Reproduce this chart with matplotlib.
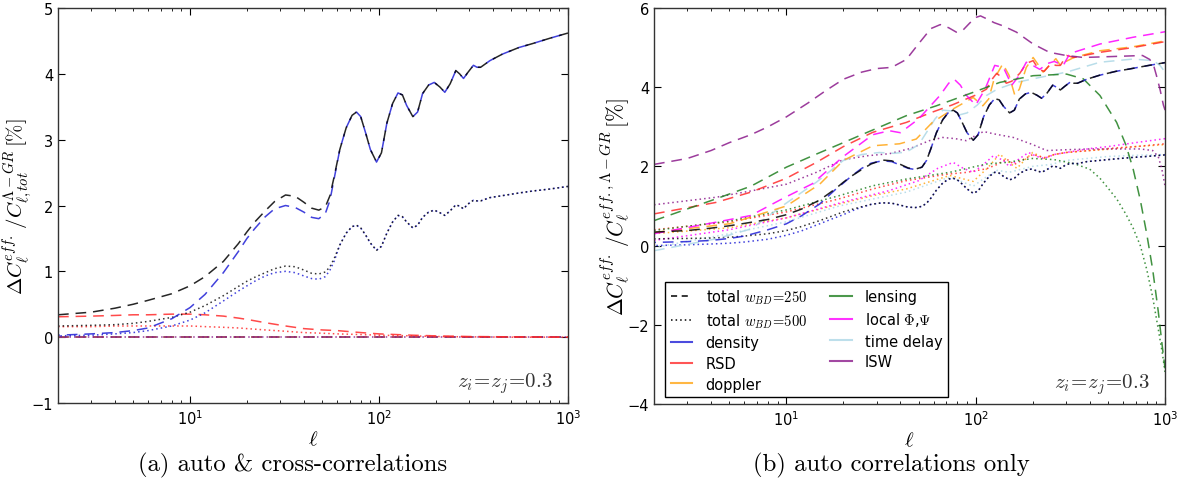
"""Brans-Dicke vs LCDM: relative change of the effective angular power spectrum."""

import matplotlib

matplotlib.use("Agg")
import matplotlib.pyplot as plt
from matplotlib.font_manager import FontProperties
from matplotlib.lines import Line2D

# ---------------------------------------------------------------- data
# (a) auto & cross-correlations
ell_a = [2, 3, 4, 5, 6, 8, 10, 12, 15, 18, 20, 22, 25, 28, 32, 36, 40, 44, 48, 52,
         55, 58, 62, 67, 72, 76, 80, 85, 90, 97, 103, 110, 118, 126, 133, 140, 151,
         160, 170, 183, 196, 210, 223, 238, 255, 267, 280, 295, 316, 330, 345, 386,
         450, 550, 650, 800, 1000]
total_250 = [0.34, 0.38, 0.44, 0.5, 0.56, 0.66, 0.78, 0.92, 1.15, 1.42, 1.6, 1.75, 1.92,
             2.06, 2.16, 2.14, 2.05, 1.96, 1.93, 1.98, 2.15, 2.45, 2.85, 3.18, 3.37, 3.42,
             3.35, 3.1, 2.85, 2.66, 2.8, 3.25, 3.55, 3.71, 3.68, 3.52, 3.35, 3.42, 3.7,
             3.83, 3.87, 3.8, 3.72, 3.85, 4.05, 4.0, 3.93, 4.02, 4.13, 4.1, 4.1, 4.2,
             4.3, 4.4, 4.46, 4.54, 4.62]
density_250 = [0.03, 0.05, 0.07, 0.1, 0.14, 0.28, 0.45, 0.65, 0.98, 1.3, 1.5, 1.65, 1.83,
               1.95, 2.0, 1.97, 1.9, 1.82, 1.8, 1.88, 2.08, 2.42, 2.85, 3.18, 3.37, 3.42,
               3.35, 3.1, 2.85, 2.66, 2.8, 3.25, 3.55, 3.71, 3.68, 3.52, 3.35, 3.42, 3.7,
               3.83, 3.87, 3.8, 3.72, 3.85, 4.05, 4.0, 3.93, 4.02, 4.13, 4.1, 4.1, 4.2,
               4.3, 4.4, 4.46, 4.54, 4.62]
total_500 = [0.17, 0.18, 0.19, 0.21, 0.24, 0.3, 0.38, 0.48, 0.63, 0.77, 0.85, 0.91, 0.98,
             1.04, 1.08, 1.07, 1.02, 0.97, 0.96, 0.99, 1.07, 1.2, 1.4, 1.58, 1.68, 1.7,
             1.66, 1.55, 1.43, 1.32, 1.38, 1.58, 1.75, 1.85, 1.83, 1.75, 1.66, 1.7, 1.82,
             1.9, 1.93, 1.89, 1.85, 1.92, 2.01, 1.99, 1.95, 2.02, 2.08, 2.07, 2.07, 2.12,
             2.15, 2.19, 2.22, 2.25, 2.29]
density_500 = [0.02, 0.03, 0.05, 0.07, 0.1, 0.17, 0.26, 0.37, 0.55, 0.7, 0.78, 0.85, 0.93,
               0.98, 1.0, 0.98, 0.93, 0.89, 0.88, 0.92, 1.02, 1.16, 1.4, 1.58, 1.68, 1.7,
               1.66, 1.55, 1.43, 1.32, 1.38, 1.58, 1.75, 1.85, 1.83, 1.75, 1.66, 1.7, 1.82,
               1.9, 1.93, 1.89, 1.85, 1.92, 2.01, 1.99, 1.95, 2.02, 2.08, 2.07, 2.07, 2.12,
               2.15, 2.19, 2.22, 2.25, 2.29]
ell_rsd_a = [2, 3, 4, 5, 6, 8, 10, 12, 15, 18, 20, 25, 32, 40, 50, 60, 80, 100, 150, 200,
             300, 500, 1000]
rsd_250_a = [0.31, 0.32, 0.33, 0.34, 0.34, 0.35, 0.35, 0.34, 0.32, 0.29, 0.27, 0.22, 0.17,
             0.13, 0.11, 0.1, 0.07, 0.05, 0.03, 0.02, 0.01, 0.005, 0.0]
rsd_500_a = [0.16, 0.16, 0.17, 0.17, 0.17, 0.17, 0.17, 0.16, 0.15, 0.14, 0.13, 0.11, 0.09,
             0.07, 0.06, 0.05, 0.04, 0.03, 0.02, 0.01, 0.005, 0.0, 0.0]
ell_flat = [2, 1000]
flat_zero = [0.0, 0.0]

# (b) auto correlations only
density_250_b = [0.08, 0.1, 0.13, 0.18, 0.24, 0.4, 0.55, 0.75, 1.05, 1.4, 1.58, 1.75, 1.95,
                 2.08, 2.14, 2.12, 2.03, 1.95, 1.92, 1.98, 2.15, 2.45, 2.85, 3.18, 3.37,
                 3.42, 3.35, 3.1, 2.85, 2.66, 2.8, 3.25, 3.55, 3.71, 3.68, 3.52, 3.35, 3.42,
                 3.7, 3.83, 3.87, 3.8, 3.72, 3.85, 4.05, 4.0, 3.93, 4.02, 4.13, 4.1, 4.1,
                 4.2, 4.3, 4.4, 4.46, 4.54, 4.62]
density_500_b = [0.0, 0.02, 0.04, 0.06, 0.09, 0.16, 0.26, 0.37, 0.55, 0.7, 0.78, 0.87, 0.97,
                 1.04, 1.08, 1.07, 1.02, 0.97, 0.96, 0.99, 1.07, 1.2, 1.4, 1.58, 1.68, 1.7,
                 1.66, 1.55, 1.43, 1.32, 1.38, 1.58, 1.75, 1.85, 1.83, 1.75, 1.66, 1.7, 1.82,
                 1.9, 1.93, 1.89, 1.85, 1.92, 2.01, 1.99, 1.95, 2.02, 2.08, 2.07, 2.07, 2.12,
                 2.15, 2.19, 2.22, 2.25, 2.29]

ell_rsd = [2, 4.25, 6.5, 10, 14.4, 20, 28.6, 43, 59, 75, 89, 100, 114, 122, 129, 137, 145,
           155, 171, 185, 201, 215, 230, 250, 265, 280, 302, 330, 453, 677, 1000]
rsd_250 = [0.8, 1.09, 1.35, 1.7, 2.1, 2.5, 2.86, 3.11, 3.37, 3.55, 3.7, 3.8, 3.95, 4.2,
           4.35, 4.25, 4.1, 4.15, 4.35, 4.6, 4.67, 4.45, 4.4, 4.6, 4.55, 4.55, 4.8, 4.75,
           4.88, 5.0, 5.15]
ell_rsd5 = [2, 5, 10, 19, 28.6, 43, 70, 90, 114, 130, 145, 160, 175, 200, 230, 260, 300,
            400, 500, 700, 1000]
rsd_500 = [0.4, 0.6, 0.85, 1.18, 1.43, 1.64, 1.8, 1.85, 1.94, 2.05, 2.19, 2.05, 2.15, 2.3,
           2.22, 2.3, 2.35, 2.4, 2.45, 2.5, 2.57]

ell_dop = [2, 5, 10, 15, 20, 28.6, 39.6, 48.5, 59, 76, 97, 109, 117, 125, 139, 150, 161,
           170, 185, 201, 215, 227, 245, 265, 280, 300, 330, 453, 677, 1000]
doppler_250 = [0.33, 0.55, 1.0, 1.55, 2.15, 2.52, 2.57, 2.69, 3.11, 3.45, 3.74, 3.53, 3.7,
               4.2, 4.59, 4.3, 3.79, 3.95, 4.5, 4.75, 4.55, 4.38, 4.55, 4.72, 4.55, 4.65,
               4.75, 4.92, 5.02, 5.17]
ell_dop5 = [2, 5, 10, 19, 28.6, 43, 73, 97, 115, 134, 150, 165, 185, 200, 230, 260, 300,
            400, 500, 700, 1000]
doppler_500 = [0.3, 0.45, 0.7, 1.05, 1.26, 1.43, 1.77, 1.62, 1.95, 2.31, 2.1, 1.95, 2.2,
               2.35, 2.2, 2.3, 2.35, 2.4, 2.43, 2.5, 2.55]

ell_lens = [2, 4.25, 6.5, 10, 14.4, 20, 25, 31, 43, 62, 97, 134, 201, 302, 370, 453, 555,
            620, 677, 740, 800, 860, 920, 970, 1000]
lensing_250 = [0.63, 1.18, 1.5, 1.98, 2.31, 2.6, 2.8, 2.99, 3.28, 3.53, 3.87, 4.12, 4.29,
               4.33, 4.21, 3.79, 3.11, 2.55, 1.95, 1.15, 0.3, -0.6, -1.65, -2.6, -3.1]
ell_lens5 = [2, 5, 10, 19, 28.6, 43, 73, 114, 145, 200, 260, 330, 400, 453, 500, 555, 620,
             677, 740, 800, 860, 920, 970, 1000]
lensing_500 = [0.38, 0.62, 0.9, 1.26, 1.51, 1.68, 1.85, 2.06, 2.1, 2.2, 2.17, 2.07, 1.93,
               1.7, 1.45, 1.18, 0.8, 0.45, 0.0, -0.6, -1.3, -2.1, -2.75, -3.2]

ell_loc = [2, 4.25, 6.5, 9.5, 13.7, 20, 28.6, 35, 40, 50, 57, 65, 72, 77, 83, 89, 100, 112,
           126, 140, 155, 170, 185, 200, 218, 240, 260, 290, 314, 453, 677, 1000]
local_250 = [0.3, 0.59, 0.76, 1.18, 1.56, 2.25, 2.8, 2.9, 2.85, 3.2, 3.5, 3.8, 4.1, 4.2,
             4.05, 3.8, 3.55, 3.95, 4.55, 4.5, 4.05, 4.3, 4.63, 4.55, 4.45, 4.6, 4.65, 4.55,
             4.85, 5.09, 5.26, 5.4]
ell_loc5 = [2, 5, 10, 20, 35, 50, 63, 76, 86, 97, 110, 124, 140, 150, 165, 190, 210, 230,
            260, 300, 400, 500, 700, 1000]
local_500 = [0.13, 0.4, 0.7, 1.1, 1.39, 1.64, 1.95, 2.1, 1.95, 1.85, 2.05, 2.27, 2.15, 2.0,
             2.15, 2.35, 2.25, 2.2, 2.3, 2.35, 2.45, 2.5, 2.6, 2.7]

ell_td = [2, 4.25, 6.5, 9.5, 14.4, 20, 25, 31, 37, 43, 50, 55, 61, 67, 74, 82, 90, 102,
          114, 130, 164, 220, 302, 453, 677, 865, 940, 1000]
timedelay_250 = [-0.13, 0.17, 0.42, 1.0, 1.6, 2.15, 2.3, 2.35, 2.33, 2.36, 2.55, 2.86, 3.2,
                 3.42, 3.4, 3.3, 3.35, 3.55, 3.79, 3.95, 4.12, 4.25, 4.38, 4.63, 4.71, 4.67,
                 4.55, 4.38]
ell_td5 = [2, 5, 10, 19, 43, 73, 97, 115, 130, 150, 200, 250, 300, 500, 700, 1000]
timedelay_500 = [-0.05, 0.3, 0.6, 1.0, 1.35, 1.73, 1.5, 1.75, 1.9, 1.85, 2.0, 2.05, 2.15,
                 2.25, 2.28, 2.3]

ell_isw = [2, 3, 4, 5, 6.5, 8, 10, 13, 16, 20, 25, 30, 36, 43, 50, 58, 65, 72, 79, 86, 93,
           100, 106, 115, 125, 139, 164, 201, 245, 300, 370, 500, 760, 830, 870, 900, 940,
           980, 1000]
isw_250 = [2.05, 2.2, 2.4, 2.6, 2.8, 3.0, 3.25, 3.6, 3.9, 4.2, 4.38, 4.47, 4.5, 4.7, 5.1,
           5.48, 5.58, 5.5, 5.39, 5.45, 5.62, 5.76, 5.8, 5.72, 5.63, 5.55, 5.39, 5.09, 4.88,
           4.8, 4.75, 4.77, 4.8, 4.7, 4.55, 4.3, 3.95, 3.55, 3.42]
ell_isw5 = [2, 4.25, 6.5, 10, 14.4, 20, 27, 35, 45, 57, 67, 78, 89, 100, 110, 125, 158, 200,
            237, 300, 400, 500, 740, 860, 920, 960, 1000]
isw_500 = [1.03, 1.22, 1.38, 1.55, 1.85, 2.17, 2.27, 2.32, 2.45, 2.65, 2.73, 2.7, 2.65,
           2.78, 2.88, 2.82, 2.73, 2.55, 2.4, 2.42, 2.44, 2.44, 2.44, 2.4, 2.25, 1.95, 1.5]

# ---------------------------------------------------------------- style
DASH = (0, (7, 4.5))
DASH_ALT = (5.75, (7, 4.5))
DOT = (0, (1, 2))
DOT_ALT = (1.5, (1, 2))
CM = "cm"

C_BLUE = "#1f1fd6"
C_RED = "#ff2a2a"
C_ORANGE = "#ffa514"
C_GREEN = "#1f7f1f"
C_MAGENTA = "#ff00ff"
C_LBLUE = "#add8e6"
C_PURPLE = "#8b1a8b"

plt.rcParams.update({
    "font.family": "DejaVu Sans",
    "font.size": 10.5,
    "xtick.direction": "in",
    "ytick.direction": "in",
    "xtick.top": True,
    "ytick.right": True,
    "xtick.major.size": 5,
    "ytick.major.size": 5,
    "xtick.minor.size": 2.5,
    "axes.linewidth": 1.0,
    "axes.edgecolor": "#333333",
})

fig = plt.figure(figsize=(11.84, 4.85), dpi=100)
ax_a = fig.add_axes([0.049, 0.167, 0.4307, 0.8144])
ax_b = fig.add_axes([0.5524, 0.165, 0.4316, 0.8165])

lw = 1.1

# --- panel (a)
for y, c in [(flat_zero, C_GREEN), (flat_zero, C_ORANGE)]:
    ax_a.plot(ell_flat, y, color=c, lw=lw, ls=DASH, alpha=0.8)
ax_a.plot(ell_flat, flat_zero, color=C_PURPLE, lw=lw, ls=DASH, alpha=0.85)
ax_a.plot(ell_flat, flat_zero, color=C_PURPLE, lw=lw, ls=DOT_ALT, alpha=0.85)
ax_a.plot(ell_rsd_a, rsd_250_a, color=C_RED, lw=lw, ls=DASH, alpha=0.85)
ax_a.plot(ell_rsd_a, rsd_500_a, color=C_RED, lw=lw, ls=DOT, alpha=0.85)
ax_a.plot(ell_a, density_500, color=C_BLUE, lw=lw, ls=DOT_ALT, alpha=0.85)
ax_a.plot(ell_a, total_500, color="k", lw=lw, ls=DOT, alpha=0.8)
ax_a.plot(ell_a, density_250, color=C_BLUE, lw=lw, ls=DASH_ALT, alpha=0.85)
ax_a.plot(ell_a, total_250, color="k", lw=lw, ls=DASH, alpha=0.85)

ax_a.set_ylim(-1, 5)
ax_a.set_ylabel(r"$\Delta C_\ell^{eff.}\,/C_{\ell,tot}^{\Lambda-GR}\,[\%]$",
                fontsize=15, math_fontfamily=CM)
ax_a.yaxis.set_label_coords(-0.045, 0.5)

# --- panel (b)
dotted_b = [
    (ell_td5, timedelay_500, C_LBLUE),
    (ell_dop5, doppler_500, C_ORANGE),
    (ell_rsd5, rsd_500, C_RED),
    (ell_loc5, local_500, C_MAGENTA),
    (ell_lens5, lensing_500, C_GREEN),
    (ell_isw5, isw_500, C_PURPLE),
]
for x, y, c in dotted_b:
    ax_b.plot(x, y, color=c, lw=lw, ls=DOT, alpha=0.85)
ax_b.plot(ell_a, density_500_b, color=C_BLUE, lw=lw, ls=DOT_ALT, alpha=0.85)
ax_b.plot(ell_a, total_500, color="k", lw=lw, ls=DOT, alpha=0.8)

dashed_b = [
    (ell_td, timedelay_250, C_LBLUE),
    (ell_dop, doppler_250, C_ORANGE),
    (ell_rsd, rsd_250, C_RED),
    (ell_loc, local_250, C_MAGENTA),
    (ell_lens, lensing_250, C_GREEN),
    (ell_isw, isw_250, C_PURPLE),
]
for x, y, c in dashed_b:
    ax_b.plot(x, y, color=c, lw=lw, ls=DASH, alpha=0.85)
ax_b.plot(ell_a, density_250_b, color=C_BLUE, lw=lw, ls=DASH_ALT, alpha=0.85)
ax_b.plot(ell_a, total_250, color="k", lw=lw, ls=DASH, alpha=0.85)

ax_b.set_ylim(-4, 6)
ax_b.set_ylabel(r"$\Delta C_\ell^{eff.}\,/C_\ell^{eff.,\Lambda-GR}\,[\%]$",
                fontsize=15.5, math_fontfamily=CM)
ax_b.yaxis.set_label_coords(-0.043, 0.5)

handles = [
    Line2D([], [], color="k", lw=lw, ls=(0, (4, 3))),
    Line2D([], [], color="k", lw=lw, ls=DOT),
    Line2D([], [], color=C_BLUE, lw=1.5, alpha=0.8),
    Line2D([], [], color=C_RED, lw=1.5, alpha=0.8),
    Line2D([], [], color=C_ORANGE, lw=1.5, alpha=0.8),
    Line2D([], [], color=C_GREEN, lw=1.5, alpha=0.8),
    Line2D([], [], color=C_MAGENTA, lw=1.5, alpha=0.8),
    Line2D([], [], color=C_LBLUE, lw=1.5, alpha=0.8),
    Line2D([], [], color=C_PURPLE, lw=1.5, alpha=0.8),
]
labels = [r"total $w_{BD}\!=\!250$", r"total $w_{BD}\!=\!500$", "density", "RSD", "doppler",
          "lensing", r"local $\Phi$,$\Psi$", "time delay", "ISW"]
leg = ax_b.legend(handles, labels, loc="lower left", bbox_to_anchor=(0.008, 0.0), ncol=2,
                  prop=FontProperties(size=10.5, math_fontfamily=CM), fancybox=False,
                  framealpha=1, edgecolor="k", handlelength=1.5, handletextpad=0.9,
                  columnspacing=1.6, labelspacing=0.38, borderpad=0.35)
leg.get_frame().set_linewidth(1.0)

for ax in (ax_a, ax_b):
    ax.set_xscale("log")
    ax.set_xlim(2, 1000)
    ax.set_xlabel(r"$\ell$", fontsize=15, math_fontfamily=CM, labelpad=1)
    ax.text(0.97, 0.052, r"$z_i\!=\!z_j\!=\!0.3$", transform=ax.transAxes, ha="right",
            va="center", fontsize=15, color="#333333", math_fontfamily=CM)

fig.text(0.247, 0.04, "(a) auto & cross-correlations", ha="center", va="center",
         fontsize=17.8, family="cmr10")
fig.text(0.753, 0.04, "(b) auto correlations only", ha="center", va="center",
         fontsize=17.8, family="cmr10")

fig.savefig("out.png", dpi=100)
